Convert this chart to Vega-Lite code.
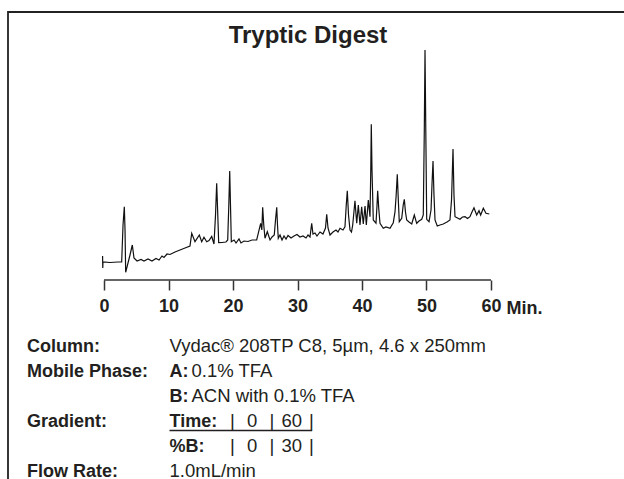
{
  "$schema": "https://vega.github.io/schema/vega-lite/v6.json",
  "width": 630,
  "height": 480,
  "autosize": {"type": "none"},
  "padding": {"left": 8, "top": 12, "right": 0, "bottom": 0},
  "background": "white",
  "title": {"text": "Tryptic Digest", "font": "Liberation Sans", "fontSize": 24, "fontWeight": "bold", "color": "#231f20", "anchor": "middle", "frame": "group", "baseline": "alphabetic", "offset": -54.5, "dx": -15},
  "config": {"view": {"stroke": "#222222", "strokeWidth": 1.8}, "font": "Liberation Sans"},
  "datasets": {
    "trace": [
      {"time": -0.22, "signal": 24}, {"time": -0.19, "signal": 12}, {"time": -0.16, "signal": 18},
      {"time": 0.93, "signal": 17.5}, {"time": 2.17, "signal": 18}, {"time": 2.74, "signal": 18},
      {"time": 2.95, "signal": 55}, {"time": 3.15, "signal": 73.3}, {"time": 3.26, "signal": 50},
      {"time": 3.36, "signal": 7.7}, {"time": 3.72, "signal": 17}, {"time": 4.03, "signal": 25},
      {"time": 4.39, "signal": 35}, {"time": 4.65, "signal": 22}, {"time": 5.12, "signal": 19},
      {"time": 5.74, "signal": 20.5}, {"time": 6.2, "signal": 19}, {"time": 6.82, "signal": 21},
      {"time": 7.44, "signal": 19}, {"time": 8.06, "signal": 21.5}, {"time": 8.53, "signal": 20},
      {"time": 8.99, "signal": 24}, {"time": 9.3, "signal": 22.5}, {"time": 9.77, "signal": 26},
      {"time": 10.23, "signal": 25.5}, {"time": 11.01, "signal": 28}, {"time": 11.78, "signal": 30},
      {"time": 12.56, "signal": 32}, {"time": 13.33, "signal": 34}, {"time": 13.6, "signal": 46.7},
      {"time": 14.11, "signal": 38.3}, {"time": 14.78, "signal": 45}, {"time": 15.15, "signal": 38.3},
      {"time": 15.5, "signal": 42.7}, {"time": 15.92, "signal": 38.3}, {"time": 16.28, "signal": 39.5},
      {"time": 16.7, "signal": 43.5}, {"time": 17.05, "signal": 36}, {"time": 17.29, "signal": 65},
      {"time": 17.47, "signal": 96.7}, {"time": 17.64, "signal": 65}, {"time": 17.78, "signal": 37.3},
      {"time": 18.29, "signal": 37.5}, {"time": 18.91, "signal": 38}, {"time": 19.18, "signal": 40},
      {"time": 19.35, "signal": 75}, {"time": 19.49, "signal": 109}, {"time": 19.61, "signal": 75},
      {"time": 19.74, "signal": 38.3}, {"time": 20.16, "signal": 40}, {"time": 20.47, "signal": 37},
      {"time": 20.93, "signal": 41}, {"time": 21.24, "signal": 37}, {"time": 21.71, "signal": 39},
      {"time": 22.33, "signal": 38.5}, {"time": 22.95, "signal": 40}, {"time": 23.67, "signal": 40},
      {"time": 24.29, "signal": 56.7}, {"time": 24.47, "signal": 50}, {"time": 24.6, "signal": 72.7},
      {"time": 24.77, "signal": 55}, {"time": 24.96, "signal": 41.7}, {"time": 25.32, "signal": 48.3},
      {"time": 25.74, "signal": 40}, {"time": 26.05, "signal": 43}, {"time": 26.4, "signal": 45},
      {"time": 26.59, "signal": 60}, {"time": 26.78, "signal": 72.7}, {"time": 26.9, "signal": 55},
      {"time": 27.02, "signal": 41.7}, {"time": 27.29, "signal": 45}, {"time": 27.6, "signal": 40},
      {"time": 27.91, "signal": 44}, {"time": 28.22, "signal": 41}, {"time": 28.53, "signal": 44.5},
      {"time": 29.0, "signal": 42}, {"time": 29.46, "signal": 44}, {"time": 29.92, "signal": 45.5},
      {"time": 30.39, "signal": 43}, {"time": 30.85, "signal": 44}, {"time": 31.32, "signal": 42},
      {"time": 31.63, "signal": 45}, {"time": 31.94, "signal": 43}, {"time": 32.2, "signal": 56.7},
      {"time": 32.4, "signal": 46}, {"time": 32.71, "signal": 47}, {"time": 33.02, "signal": 44},
      {"time": 33.49, "signal": 48}, {"time": 33.95, "signal": 46}, {"time": 34.34, "signal": 52},
      {"time": 34.53, "signal": 65.7}, {"time": 34.73, "signal": 52}, {"time": 35.04, "signal": 45},
      {"time": 35.5, "signal": 48}, {"time": 35.97, "signal": 50}, {"time": 36.28, "signal": 48},
      {"time": 36.59, "signal": 51.7}, {"time": 37.05, "signal": 50}, {"time": 37.36, "signal": 53.3},
      {"time": 37.56, "signal": 75}, {"time": 37.72, "signal": 89.3}, {"time": 37.91, "signal": 65},
      {"time": 38.14, "signal": 50}, {"time": 38.37, "signal": 48}, {"time": 38.56, "signal": 55},
      {"time": 38.91, "signal": 79.3}, {"time": 39.18, "signal": 56.7}, {"time": 39.43, "signal": 75},
      {"time": 39.69, "signal": 55}, {"time": 39.95, "signal": 73.3}, {"time": 40.2, "signal": 56},
      {"time": 40.47, "signal": 74}, {"time": 40.67, "signal": 55}, {"time": 40.98, "signal": 80},
      {"time": 41.24, "signal": 63.3}, {"time": 41.36, "signal": 110}, {"time": 41.44, "signal": 155.7},
      {"time": 41.55, "signal": 110}, {"time": 41.75, "signal": 60}, {"time": 42.17, "signal": 56.7},
      {"time": 42.33, "signal": 75}, {"time": 42.43, "signal": 89.3}, {"time": 42.59, "signal": 72},
      {"time": 42.79, "signal": 56.7}, {"time": 43.3, "signal": 51.7}, {"time": 43.72, "signal": 53},
      {"time": 44.34, "signal": 51.7}, {"time": 44.85, "signal": 57.3}, {"time": 45.12, "signal": 68.3},
      {"time": 45.3, "signal": 85}, {"time": 45.47, "signal": 105.7}, {"time": 45.63, "signal": 80},
      {"time": 45.78, "signal": 58.3}, {"time": 46.16, "signal": 61.7}, {"time": 46.39, "signal": 75},
      {"time": 46.56, "signal": 80.7}, {"time": 46.74, "signal": 68}, {"time": 46.93, "signal": 60},
      {"time": 47.29, "signal": 58}, {"time": 47.71, "signal": 56}, {"time": 48.11, "signal": 65},
      {"time": 48.48, "signal": 56.7}, {"time": 48.84, "signal": 59}, {"time": 49.26, "signal": 60.7},
      {"time": 49.5, "signal": 65}, {"time": 49.66, "signal": 150}, {"time": 49.77, "signal": 230},
      {"time": 49.89, "signal": 150}, {"time": 50.03, "signal": 60.7}, {"time": 50.39, "signal": 58.3},
      {"time": 50.7, "signal": 70}, {"time": 50.85, "signal": 95}, {"time": 51.01, "signal": 119},
      {"time": 51.16, "signal": 85}, {"time": 51.32, "signal": 60}, {"time": 51.67, "signal": 54},
      {"time": 52.09, "signal": 55}, {"time": 52.6, "signal": 56}, {"time": 53.18, "signal": 58},
      {"time": 53.64, "signal": 60}, {"time": 53.88, "signal": 80}, {"time": 54.11, "signal": 131},
      {"time": 54.26, "signal": 85}, {"time": 54.42, "signal": 63.3}, {"time": 54.81, "signal": 62},
      {"time": 55.19, "signal": 60.7}, {"time": 55.58, "signal": 63}, {"time": 55.97, "signal": 63.3},
      {"time": 56.36, "signal": 61.5}, {"time": 56.74, "signal": 63.3}, {"time": 57.05, "signal": 68},
      {"time": 57.36, "signal": 72.3}, {"time": 57.78, "signal": 65}, {"time": 58.14, "signal": 69.3},
      {"time": 58.4, "signal": 65}, {"time": 58.81, "signal": 71.7}, {"time": 59.22, "signal": 66.7},
      {"time": 59.74, "signal": 66}
    ],
    "info": [
      {"line": 1, "col": "label", "part": "label", "text": "Column:"},
      {"line": 2, "col": "label", "part": "label", "text": "Mobile Phase:"},
      {"line": 4, "col": "label", "part": "label", "text": "Gradient:"},
      {"line": 6, "col": "label", "part": "label", "text": "Flow Rate:"},
      {"line": 1, "col": "value", "part": "value", "text": "Vydac® 208TP C8, 5µm, 4.6 x 250mm"},
      {"line": 6, "col": "value", "part": "value", "text": "1.0mL/min"},
      {"line": 2, "col": "value", "part": "key", "text": "A:"},
      {"line": 3, "col": "value", "part": "key", "text": "B:"},
      {"line": 4, "col": "value", "part": "key", "text": "Time:"},
      {"line": 5, "col": "value", "part": "key", "text": "%B:"},
      {"line": 2, "col": "value", "part": "keyvalue", "text": "0.1% TFA"},
      {"line": 3, "col": "value", "part": "keyvalue", "text": "ACN with 0.1% TFA"},
      {"line": 4, "col": "value", "part": "cell", "slot": "n1", "text": "0"},
      {"line": 4, "col": "value", "part": "cell", "slot": "n2", "text": "60"},
      {"line": 5, "col": "value", "part": "cell", "slot": "n1", "text": "0"},
      {"line": 5, "col": "value", "part": "cell", "slot": "n2", "text": "30"},
      {"line": 4, "col": "value", "part": "bar", "slot": "b1", "text": "|"},
      {"line": 4, "col": "value", "part": "bar", "slot": "b2", "text": "|"},
      {"line": 4, "col": "value", "part": "bar", "slot": "b3", "text": "|"},
      {"line": 5, "col": "value", "part": "bar", "slot": "b1", "text": "|"},
      {"line": 5, "col": "value", "part": "bar", "slot": "b2", "text": "|"},
      {"line": 5, "col": "value", "part": "bar", "slot": "b3", "text": "|"}
    ],
    "underline": [
      {"from": "value", "to": "end", "line": 4.14}
    ]
  },
  "layer": [
    {
      "data": {"name": "trace"},
      "layer": [
        {
          "mark": {"type": "line", "color": "#111111", "strokeWidth": 1.2},
          "encoding": {
            "x": {
              "field": "time", "type": "quantitative",
              "scale": {"domain": [-14.884, 82.791], "nice": false, "zero": false},
              "axis": {
                "values": [0, 10, 20, 30, 40, 50, 60], "offset": -212, "domain": false, "grid": false,
                "tickSize": 10, "tickWidth": 1.5, "tickColor": "#333333",
                "labelFont": "Liberation Sans", "labelFontSize": 18, "labelFontWeight": "bold",
                "labelColor": "#231f20", "labelPadding": 7, "labelFlush": false, "labelOverlap": false,
                "title": "Min.", "titleX": 498, "titleY": 33, "titleAlign": "left", "titleBaseline": "alphabetic",
                "titleFont": "Liberation Sans", "titleFontSize": 18, "titleFontWeight": "bold", "titleColor": "#231f20"
              }
            },
            "y": {
              "field": "signal", "type": "quantitative",
              "scale": {"domain": [-212, 268], "nice": false, "zero": false},
              "axis": null
            }
          }
        },
        {
          "data": {"values": [{}]},
          "mark": {"type": "rule", "color": "#333333", "strokeWidth": 1.5},
          "encoding": {
            "x": {"datum": 0, "type": "quantitative"},
            "x2": {"datum": 60},
            "y": {"datum": 0, "type": "quantitative"}
          }
        }
      ]
    },
    {
      "layer": [
        {
          "data": {"name": "info"},
          "encoding": {
            "x": {"field": "col", "type": "nominal", "scale": {"type": "point", "domain": ["label", "value", "end"], "range": [19, 304], "padding": 0}, "axis": null},
            "y": {"field": "line", "type": "quantitative", "scale": {"domain": [1, 6], "range": [340, 465]}, "axis": null},
            "text": {"field": "text"}
          },
          "layer": [
            {
              "transform": [{"filter": "datum.part == 'label' || datum.part == 'key'"}],
              "mark": {"type": "text", "align": "left", "baseline": "alphabetic", "fontSize": 18, "fontWeight": "bold", "color": "#231f20"}
            },
            {
              "transform": [{"filter": "datum.part == 'value'"}],
              "mark": {"type": "text", "align": "left", "baseline": "alphabetic", "fontSize": 18.5, "color": "#231f20"}
            },
            {
              "transform": [{"filter": "datum.part == 'keyvalue'"}],
              "mark": {"type": "text", "align": "left", "baseline": "alphabetic", "fontSize": 18.5, "dx": 22, "color": "#231f20"}
            },
            {
              "transform": [{"filter": "datum.part == 'cell'"}],
              "mark": {"type": "text", "align": "center", "baseline": "alphabetic", "fontSize": 18.5, "color": "#231f20"},
              "encoding": {"xOffset": {"field": "slot", "type": "nominal", "scale": {"type": "point", "domain": ["b1", "n1", "b2", "n2", "b3"], "range": [63, 142], "padding": 0}}}
            },
            {
              "transform": [{"filter": "datum.part == 'bar'"}],
              "mark": {"type": "text", "align": "center", "baseline": "alphabetic", "fontSize": 18.5, "color": "#231f20"},
              "encoding": {"xOffset": {"field": "slot", "type": "nominal", "scale": {"type": "point", "domain": ["b1", "n1", "b2", "n2", "b3"], "range": [63, 142], "padding": 0}}}
            }
          ]
        },
        {
          "data": {"name": "underline"},
          "mark": {"type": "rule", "color": "#231f20", "strokeWidth": 1.3},
          "encoding": {
            "x": {"field": "from", "type": "nominal", "scale": {"type": "point", "domain": ["label", "value", "end"], "range": [19, 304], "padding": 0}, "axis": null},
            "x2": {"field": "to"},
            "y": {"field": "line", "type": "quantitative", "scale": {"domain": [1, 6], "range": [340, 465]}, "axis": null}
          }
        }
      ]
    }
  ],
  "resolve": {"scale": {"x": "independent", "y": "independent"}}
}
